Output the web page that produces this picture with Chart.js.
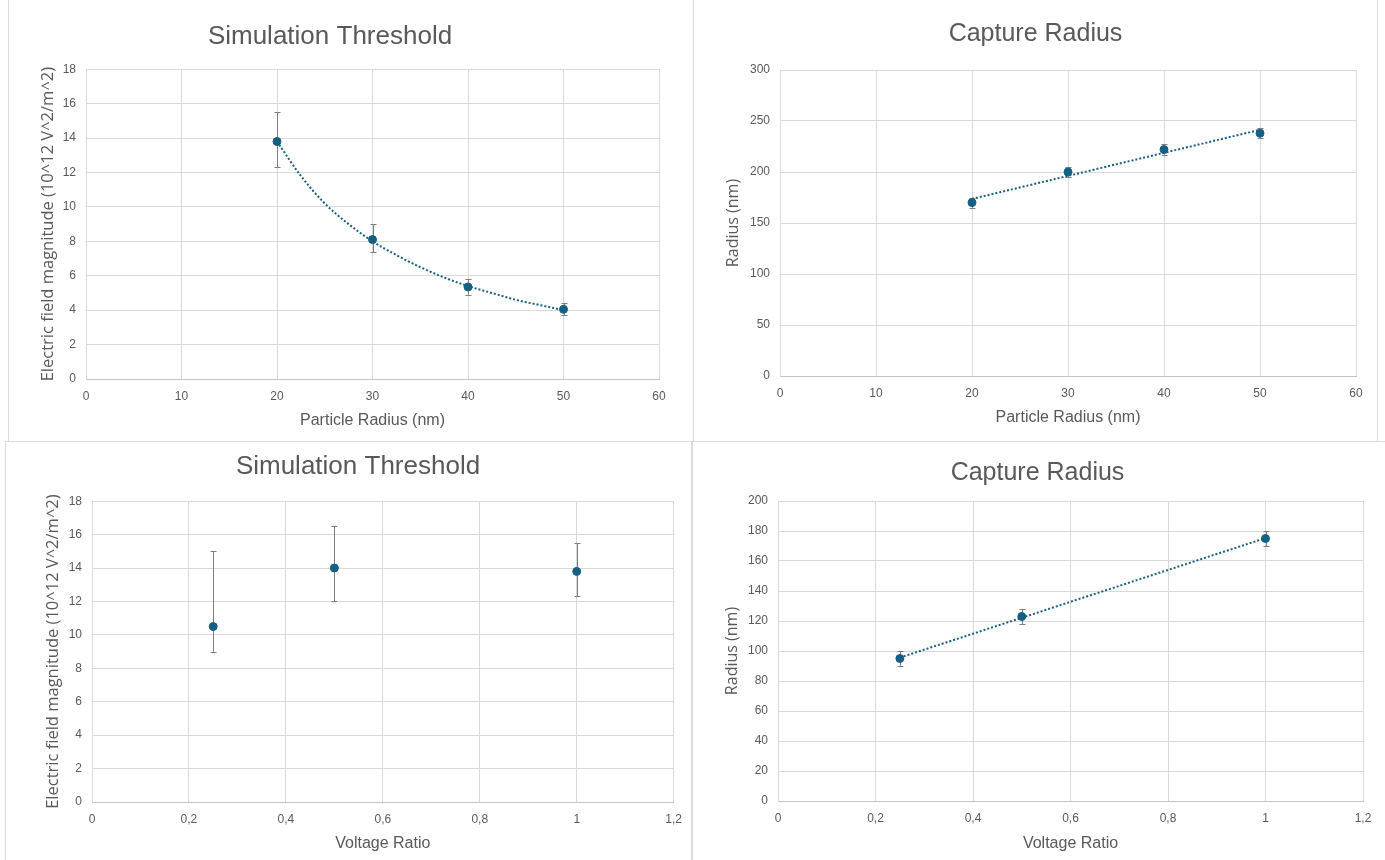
<!DOCTYPE html>
<html>
<head>
<meta charset="utf-8">
<title>Simulation Threshold / Capture Radius</title>
<script src="https://cdn.jsdelivr.net/npm/chart.js@4.4.1/dist/chart.umd.min.js"></script>
<style>
  html, body { margin: 0; padding: 0; background: #fff; }
  #page { position: relative; width: 1385px; height: 860px; overflow: hidden; }
  .frame { position: absolute; border: 1px solid #dcdcdc; box-sizing: border-box; }
  canvas { position: absolute; }
</style>
</head>
<body>
<div id="page">
  <div class="frame" style="left:8px; top:-1px; width:686px; height:443px;"></div>
  <div class="frame" style="left:693px; top:-1px; width:685px; height:443px;"></div>
  <div class="frame" style="left:5px; top:441px; width:688px; height:421px;"></div>
  <div class="frame" style="left:691px; top:441px; width:696px; height:421px;"></div>

  <canvas id="thresholdRadius" width="693" height="440" style="left:0px; top:0px;"></canvas>
  <canvas id="captureRadius" width="692" height="440" style="left:693px; top:0px;"></canvas>
  <canvas id="thresholdVoltage" width="692" height="419" style="left:0px; top:441px;"></canvas>
  <canvas id="captureVoltage" width="693" height="419" style="left:692px; top:441px;"></canvas>
</div>

<script>
// ================================
// DATA
// ================================

// top-left: simulation threshold vs particle radius
const particleRadius = [20, 30, 40, 50];
const thresholdByRadius = [13.8, 8.1, 5.35, 4.05];
const thresholdByRadiusHigh = [15.5, 9.0, 5.8, 4.4];
const thresholdByRadiusLow = [12.3, 7.35, 4.9, 3.7];
// dotted power trendline
const thresholdTrendX = [20, 22.5, 25, 27.5, 30, 32.5, 35, 37.5, 40, 42.5, 45, 47.5, 50];
const thresholdTrendY = [13.8, 11.8, 10.2, 9.0, 8.0, 7.2, 6.5, 5.9, 5.4, 5.0, 4.6, 4.3, 4.0];

// top-right: capture radius vs particle radius
const captureByRadius = [170, 200, 222, 238];
const captureByRadiusHigh = [175, 205, 227, 243];
const captureByRadiusLow = [165, 195, 217, 233];
const captureTrendX = [20, 50];
const captureTrendY = [173.6, 241.4];

// bottom-left: simulation threshold vs voltage ratio
const voltageRatio = [0.25, 0.5, 1];
const thresholdByVoltage = [10.5, 14.0, 13.8];
const thresholdByVoltageHigh = [15.0, 16.5, 15.5];
const thresholdByVoltageLow = [9.0, 12.0, 12.3];

// bottom-right: capture radius vs voltage ratio
const captureByVoltage = [95, 123, 175];
const captureByVoltageHigh = [100, 128, 180];
const captureByVoltageLow = [90, 118, 170];
const captureVoltTrendX = [0.25, 1];
const captureVoltTrendY = [95.6, 175.3];

// ticks
const radiusTicks = [0, 10, 20, 30, 40, 50, 60];
const radiusTickLabels = ['0', '10', '20', '30', '40', '50', '60'];
const ratioTicks = [0, 0.2, 0.4, 0.6, 0.8, 1, 1.2];
const ratioTickLabels = ['0', '0,2', '0,4', '0,6', '0,8', '1', '1,2'];
const thresholdTicks = [0, 2, 4, 6, 8, 10, 12, 14, 16, 18];
const captureTicksTop = [0, 50, 100, 150, 200, 250, 300];
const captureTicksBottom = [0, 20, 40, 60, 80, 100, 120, 140, 160, 180, 200];

// ================================
// STYLE
// ================================
const MARKER = '#156082';
const TEXT = '#595959';
const GRID = '#d9d9d9';
const ERRBAR = '#7f7f7f';
const FONT = "'Liberation Sans', Arial, sans-serif";
const YFONT = "'Open Sans', 'Liberation Sans', sans-serif";

// Error bars drawn behind the markers, positioned through the chart's own scales
const errorBarPlugin = {
    id: 'errorBars',
    beforeDatasetsDraw(chart) {
        const { ctx, scales } = chart;
        chart.data.datasets.forEach(ds => {
            if (!ds.errHigh) return;
            ctx.save();
            ctx.strokeStyle = ERRBAR;
            ctx.lineWidth = 1;
            ds.data.forEach((pt, j) => {
                const px = Math.round(scales.x.getPixelForValue(pt.x)) + 0.5;
                const top = scales.y.getPixelForValue(ds.errHigh[j]);
                const bot = scales.y.getPixelForValue(ds.errLow[j]);
                ctx.beginPath();
                ctx.moveTo(px, top);
                ctx.lineTo(px, bot);
                ctx.moveTo(px - 3, Math.round(top) + 0.5);
                ctx.lineTo(px + 3, Math.round(top) + 0.5);
                ctx.moveTo(px - 3, Math.round(bot) + 0.5);
                ctx.lineTo(px + 3, Math.round(bot) + 0.5);
                ctx.stroke();
            });
            ctx.restore();
        });
    }
};

const toPoints = (xs, ys) => xs.map((x, i) => ({ x: x, y: ys[i] }));

function pointsDataset(xs, ys, hi, lo) {
    return {
        data: toPoints(xs, ys),
        errHigh: hi,
        errLow: lo,
        showLine: false,
        pointRadius: 4,
        pointBackgroundColor: MARKER,
        pointBorderColor: MARKER,
        pointBorderWidth: 1,
        order: 1
    };
}

function trendDataset(xs, ys) {
    return {
        data: toPoints(xs, ys),
        showLine: true,
        borderColor: MARKER,
        borderWidth: 2,
        borderDash: [2, 2],
        cubicInterpolationMode: 'monotone',
        pointRadius: 0,
        order: 0
    };
}

// p: layout numbers for one panel
function makeChart(id, p) {
    const ctx = document.getElementById(id).getContext('2d');
    return new Chart(ctx, {
        type: 'scatter',
        data: { datasets: p.datasets },
        plugins: [errorBarPlugin],
        options: {
            responsive: false,
            animation: false,
            devicePixelRatio: 1,
            layout: { padding: { left: p.padLeft, right: p.padRight, top: 0, bottom: 0 } },
            plugins: {
                legend: { display: false },
                tooltip: { enabled: false },
                title: {
                    display: true,
                    text: p.title,
                    color: TEXT,
                    font: { family: FONT, size: p.titleSize, weight: 'normal', lineHeight: 1.2 },
                    padding: { top: p.titleTop, bottom: p.titleBottom }
                }
            },
            scales: {
                x: {
                    type: 'linear',
                    min: p.xTicks[0],
                    max: p.xTicks[p.xTicks.length - 1],
                    afterBuildTicks: s => { s.ticks = p.xTicks.map(v => ({ value: v })); },
                    afterFit: s => { s.height = p.xHeight; },
                    grid: { color: GRID, drawTicks: false },
                    border: { color: '#c4c4c4' },
                    ticks: {
                        padding: 10, color: TEXT, maxRotation: 0, autoSkip: false,
                        font: { family: FONT, size: 12 },
                        callback: (v, i) => p.xLabels[i]
                    },
                    title: {
                        display: true, text: p.xTitle, color: TEXT,
                        font: { family: FONT, size: 16, lineHeight: 1.2 },
                        padding: { top: 0, bottom: p.xTitleBottom }
                    }
                },
                y: {
                    type: 'linear',
                    min: p.yTicks[0],
                    max: p.yTicks[p.yTicks.length - 1],
                    afterBuildTicks: s => { s.ticks = p.yTicks.map(v => ({ value: v })); },
                    afterFit: s => { s.width = p.yWidth; },
                    grid: { color: GRID, drawTicks: false },
                    border: { color: GRID },
                    ticks: {
                        padding: 10, color: TEXT, autoSkip: false,
                        font: { family: FONT, size: 12 },
                        callback: v => String(v)
                    },
                    title: {
                        display: true, text: p.yTitle, color: TEXT,
                        font: { family: YFONT, size: p.yTitleSize, lineHeight: 1.2 },
                        padding: { top: p.yTitleLeft, bottom: 0 }
                    }
                }
            }
        }
    });
}

makeChart('thresholdRadius', {
    title: 'Simulation Threshold', titleSize: 26, titleTop: 21, titleBottom: 17,
    padLeft: 1, padRight: 34, yWidth: 85, xHeight: 61,
    xTicks: radiusTicks, xLabels: radiusTickLabels, yTicks: thresholdTicks,
    xTitle: 'Particle Radius (nm)', xTitleBottom: 10,
    yTitle: 'Electric field magnitude (10^12 V^2/m^2)', yTitleSize: 16.5, yTitleLeft: 37,
    datasets: [
        trendDataset(thresholdTrendX, thresholdTrendY),
        pointsDataset(particleRadius, thresholdByRadius, thresholdByRadiusHigh, thresholdByRadiusLow)
    ]
});

makeChart('captureRadius', {
    title: 'Capture Radius', titleSize: 25, titleTop: 19, titleBottom: 21,
    padLeft: 22, padRight: 29, yWidth: 65, xHeight: 64,
    xTicks: radiusTicks, xLabels: radiusTickLabels, yTicks: captureTicksTop,
    xTitle: 'Particle Radius (nm)', xTitleBottom: 13,
    yTitle: 'Radius (nm)', yTitleSize: 16, yTitleLeft: 9,
    datasets: [
        trendDataset(captureTrendX, captureTrendY),
        pointsDataset(particleRadius, captureByRadius, captureByRadiusHigh, captureByRadiusLow)
    ]
});

makeChart('thresholdVoltage', {
    title: 'Simulation Threshold', titleSize: 26, titleTop: 10, titleBottom: 19,
    padLeft: 40, padRight: 16, yWidth: 52, xHeight: 58,
    xTicks: ratioTicks, xLabels: ratioTickLabels, yTicks: thresholdTicks,
    xTitle: 'Voltage Ratio', xTitleBottom: 7,
    yTitle: 'Electric field magnitude (10^12 V^2/m^2)', yTitleSize: 16.5, yTitleLeft: 3,
    datasets: [
        pointsDataset(voltageRatio, thresholdByVoltage, thresholdByVoltageHigh, thresholdByVoltageLow)
    ]
});

makeChart('captureVoltage', {
    title: 'Capture Radius', titleSize: 25, titleTop: 17, titleBottom: 13,
    padLeft: 20, padRight: 22, yWidth: 66, xHeight: 59,
    xTicks: ratioTicks, xLabels: ratioTickLabels, yTicks: captureTicksBottom,
    xTitle: 'Voltage Ratio', xTitleBottom: 7,
    yTitle: 'Radius (nm)', yTitleSize: 16, yTitleLeft: 11,
    datasets: [
        trendDataset(captureVoltTrendX, captureVoltTrendY),
        pointsDataset(voltageRatio, captureByVoltage, captureByVoltageHigh, captureByVoltageLow)
    ]
});
</script>
</body>
</html>
